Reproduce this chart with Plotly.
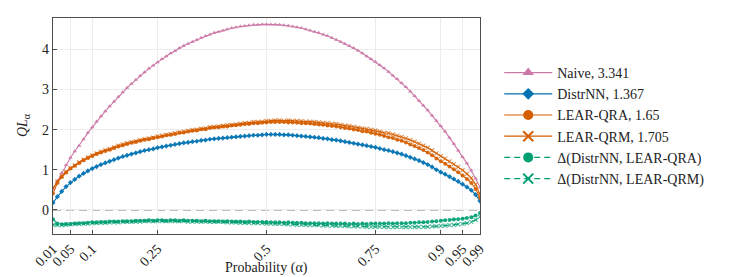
import plotly.graph_objects as go

alpha = [round(i / 100, 2) for i in range(1, 100)]

naive = [
    0.52, 0.72, 0.92, 1.12, 1.30, 1.46, 1.60, 1.76, 1.92, 2.06,
    2.20, 2.33, 2.46, 2.58, 2.70, 2.82, 2.93, 3.04, 3.14, 3.24,
    3.34, 3.43, 3.52, 3.60, 3.68, 3.76, 3.83, 3.90, 3.96, 4.03,
    4.09, 4.14, 4.19, 4.24, 4.29, 4.33, 4.37, 4.41, 4.44, 4.47,
    4.50, 4.53, 4.55, 4.57, 4.58, 4.60, 4.61, 4.61, 4.62, 4.62,
    4.62, 4.62, 4.61, 4.60, 4.59, 4.57, 4.55, 4.53, 4.50, 4.47,
    4.44, 4.41, 4.37, 4.33, 4.29, 4.24, 4.19, 4.14, 4.09, 4.03,
    3.97, 3.90, 3.83, 3.76, 3.69, 3.61, 3.53, 3.44, 3.35, 3.26,
    3.16, 3.06, 2.95, 2.84, 2.72, 2.60, 2.48, 2.35, 2.22, 2.09,
    1.95, 1.80, 1.65, 1.48, 1.32, 1.16, 0.98, 0.78, 0.56,
]

distrnn = [
    0.18, 0.33, 0.46, 0.58, 0.68, 0.76, 0.84, 0.91, 0.97, 1.03,
    1.08, 1.13, 1.17, 1.21, 1.25, 1.29, 1.33, 1.36, 1.39, 1.42,
    1.45, 1.48, 1.50, 1.52, 1.55, 1.57, 1.59, 1.61, 1.63, 1.65,
    1.67, 1.68, 1.70, 1.71, 1.73, 1.74, 1.76, 1.77, 1.78, 1.79,
    1.80, 1.81, 1.82, 1.83, 1.84, 1.85, 1.86, 1.86, 1.87, 1.88,
    1.88, 1.88, 1.88, 1.87, 1.87, 1.86, 1.85, 1.84, 1.83, 1.82,
    1.81, 1.80, 1.78, 1.77, 1.75, 1.74, 1.72, 1.70, 1.68, 1.66,
    1.64, 1.62, 1.60, 1.58, 1.56, 1.53, 1.50, 1.48, 1.45, 1.42,
    1.39, 1.35, 1.31, 1.27, 1.23, 1.18, 1.13, 1.07, 1.00, 0.94,
    0.89, 0.83, 0.77, 0.71, 0.64, 0.57, 0.49, 0.38, 0.22,
]

lear_qra = [
    0.41, 0.67, 0.82, 0.93, 1.03, 1.10, 1.17, 1.24, 1.29, 1.34,
    1.39, 1.43, 1.47, 1.50, 1.54, 1.58, 1.61, 1.64, 1.67, 1.69,
    1.72, 1.75, 1.76, 1.79, 1.81, 1.83, 1.86, 1.87, 1.89, 1.92,
    1.93, 1.95, 1.97, 1.98, 2.01, 2.01, 2.04, 2.05, 2.06, 2.08,
    2.08, 2.10, 2.11, 2.12, 2.14, 2.14, 2.16, 2.16, 2.17, 2.18,
    2.19, 2.19, 2.19, 2.19, 2.18, 2.18, 2.17, 2.16, 2.16, 2.15,
    2.14, 2.13, 2.12, 2.10, 2.09, 2.08, 2.06, 2.04, 2.03, 2.00,
    1.99, 1.96, 1.95, 1.92, 1.90, 1.87, 1.84, 1.81, 1.79, 1.75,
    1.72, 1.68, 1.63, 1.59, 1.54, 1.49, 1.43, 1.36, 1.28, 1.21,
    1.15, 1.08, 1.01, 0.94, 0.86, 0.77, 0.67, 0.52, 0.30,
]

lear_qrm = [
    0.55, 0.71, 0.84, 0.95, 1.04, 1.11, 1.19, 1.25, 1.31, 1.36,
    1.41, 1.45, 1.49, 1.52, 1.56, 1.60, 1.63, 1.66, 1.69, 1.71,
    1.74, 1.76, 1.78, 1.80, 1.83, 1.85, 1.87, 1.89, 1.91, 1.93,
    1.95, 1.97, 1.99, 2.00, 2.02, 2.03, 2.06, 2.07, 2.08, 2.09,
    2.11, 2.12, 2.13, 2.15, 2.16, 2.17, 2.19, 2.19, 2.20, 2.22,
    2.22, 2.23, 2.23, 2.22, 2.23, 2.22, 2.22, 2.21, 2.20, 2.20,
    2.19, 2.18, 2.17, 2.16, 2.14, 2.14, 2.12, 2.10, 2.09, 2.07,
    2.05, 2.03, 2.02, 2.00, 1.98, 1.95, 1.92, 1.91, 1.88, 1.85,
    1.82, 1.78, 1.74, 1.70, 1.65, 1.60, 1.55, 1.48, 1.41, 1.34,
    1.28, 1.21, 1.14, 1.07, 0.99, 0.90, 0.79, 0.63, 0.39,
]

delta_qra = [round(a - b, 3) for a, b in zip(distrnn, lear_qra)]
delta_qrm = [round(a - b, 3) for a, b in zip(distrnn, lear_qrm)]

tick_vals = [0.01, 0.05, 0.1, 0.25, 0.5, 0.75, 0.9, 0.95, 0.99]
tick_text = ["0.01", "0.05", "0.1", "0.25", "0.5", "0.75", "0.9", "0.95", "0.99"]

PINK = "#CC79A7"
BLUE = "#0072B2"
ORANGE = "#D55E00"
GREEN = "#009E73"
FONT = "Liberation Serif"
DASH = "6px,4px"

series = [
    (naive, "Naive, 3.341", PINK, "triangle-up", "solid", False),
    (distrnn, "DistrNN, 1.367", BLUE, "diamond", "solid", False),
    (lear_qra, "LEAR-QRA, 1.65", ORANGE, "circle", "solid", False),
    (lear_qrm, "LEAR-QRM, 1.705", ORANGE, "x-thin", "solid", True),
    (delta_qra, "Δ(DistrNN, LEAR-QRA)", GREEN, "circle", DASH, False),
    (delta_qrm, "Δ(DistrNN, LEAR-QRM)", GREEN, "x-thin", DASH, True),
]

fig = go.Figure()

for y, name, color, symbol, dash, is_x in series:
    fig.add_trace(go.Scatter(
        x=alpha, y=y, name=name, mode="lines+markers", showlegend=False,
        line=dict(color=color, width=1.1, dash=dash),
        marker=dict(color=color, size=4, symbol=symbol,
                    opacity=0.7 if is_x else 0.9,
                    line=dict(width=1.1 if is_x else 0, color=color)),
    ))

# legend entries (bigger symbols, same styling)
for y, name, color, symbol, dash, is_x in series:
    fig.add_trace(go.Scatter(
        x=[None], y=[None], name=name, mode="lines+markers", showlegend=True,
        line=dict(color=color, width=1.2, dash=dash),
        marker=dict(color=color, size=10 if symbol != "diamond" else 9, symbol=symbol,
                    line=dict(width=2 if is_x else 0, color=color)),
    ))

fig.add_shape(type="line", xref="paper", x0=0, x1=1, yref="y", y0=0, y1=0,
              line=dict(color="#a8a8a8", width=1.6, dash="8px,5px"), layer="below")

axis_common = dict(
    showline=True, linecolor="#4d4d4d", linewidth=1.4, mirror=True,
    showgrid=True, gridcolor="#ececec", gridwidth=1,
    ticks="inside", ticklen=4, tickcolor="#4d4d4d", zeroline=False,
)

fig.update_layout(
    width=747, height=277,
    margin=dict(l=45, r=275, t=10, b=51),
    paper_bgcolor="white", plot_bgcolor="white",
    font=dict(family=FONT, size=13, color="#222"),
    showlegend=True,
    legend=dict(x=1.045, y=0.5, xanchor="left", yanchor="middle",
                font=dict(family=FONT, size=14, color="#222"),
                itemwidth=48,
                bgcolor="rgba(0,0,0,0)", tracegroupgap=0),
    xaxis=dict(range=[0.01, 0.99], tickvals=tick_vals, ticktext=tick_text,
               tickangle=-45, tickfont=dict(family=FONT, size=14, color="#222"),
               **axis_common),
    yaxis=dict(range=[-0.6, 4.78], tickvals=[0, 1, 2, 3, 4],
               tickfont=dict(family=FONT, size=14, color="#222"),
               **axis_common),
    annotations=[
        dict(text="Probability (α)", xref="paper", yref="paper", x=0.5, y=-0.205,
             xanchor="center", yanchor="bottom", showarrow=False,
             font=dict(family=FONT, size=14, color="#222")),
        dict(text="<i>QL</i><sub>α</sub>", xref="paper", yref="paper", x=-0.07, y=0.5,
             xanchor="center", yanchor="middle", showarrow=False, textangle=-90,
             font=dict(family=FONT, size=14, color="#222")),
    ],
)

fig.write_html("out.html")
